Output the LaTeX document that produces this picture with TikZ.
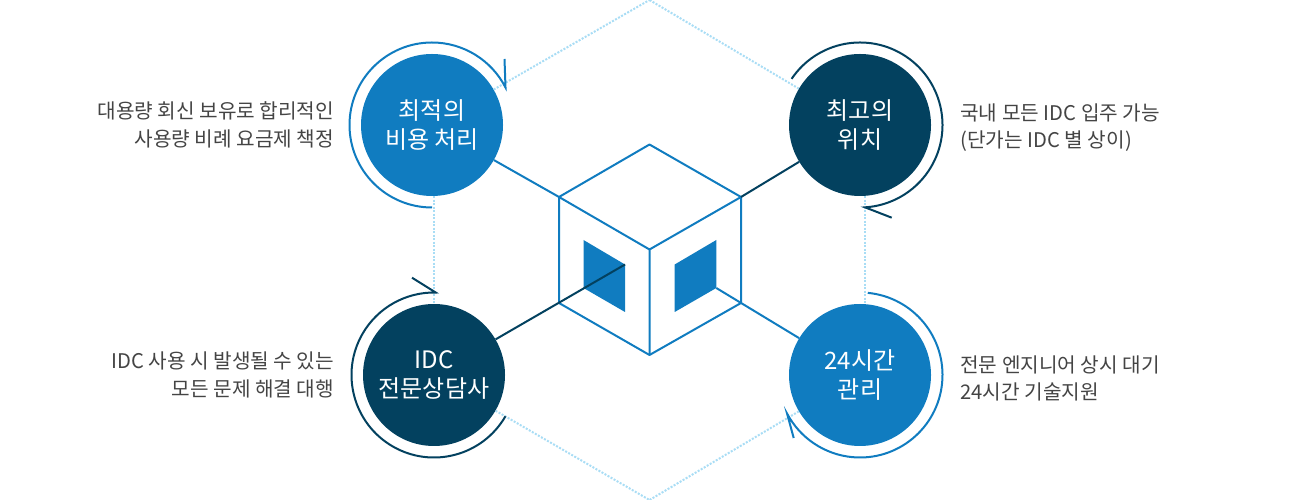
\documentclass[tikz,border=0pt]{standalone}
\usepackage{fontspec}
\setmainfont{Noto Sans CJK KR}
\usetikzlibrary{positioning}

\definecolor{idcblue}{HTML}{107CC0}
\definecolor{idcdark}{HTML}{03415F}
\definecolor{idcdots}{HTML}{A9DDF5}
\definecolor{idctext}{HTML}{444444}

\tikzset{
	bubble/.style = {circle, minimum size = 142pt, inner sep = 0pt, text = white, align = center,
		font = \fontsize{24}{29.5}\selectfont},
	bluebubble/.style = {bubble, fill = idcblue},
	darkbubble/.style = {bubble, fill = idcdark},
	note/.style = {inner sep = 0pt, text = idctext, font = \fontsize{20.2}{27.5}\selectfont},
	hexline/.style = {idcdots, line width = 2pt, dash pattern = on 2pt off 1.5pt},
	blueline/.style = {idcblue, line width = 2pt, line join = round},
	darkline/.style = {idcdark, line width = 2pt, miter limit = 20},
	bluering/.style = {idcblue, line width = 2pt, miter limit = 20}
}

\begin{document}
\begin{tikzpicture}[x = 1pt, y = 1pt]
		\useasboundingbox (0, 0) rectangle (1300, 500);

		\node [bluebubble] (cost) at (432, 375) {최적의\\비용 처리};
		\node [darkbubble] (site) at (860, 375) {최고의\\위치};
		\node [darkbubble] (staff) at (434, 125) {IDC\\전문상담사};
		\node [bluebubble] (care) at (860, 125) {24시간\\관리};

		\node [note, align = right, left = 26.5pt of cost] (costnote) {대용량 회신 보유로 합리적인\\사용량 비례 요금제 책정};
		\node [note, align = left, right = 29pt of site, yshift = -2.5pt] (sitenote) {국내 모든 IDC 입주 가능\\(단가는 IDC 별 상이)};
		\node [note, align = right, left = 28.5pt of staff] (staffnote) {IDC 사용 시 발생될 수 있는\\모든 문제 해결 대행};
		\node [note, align = left, right = 29pt of care, yshift = -3.5pt] (carenote) {전문 엔지니어 상시 대기\\24시간 기술지원};

		% cube corners
		\coordinate (top) at (649.5, 355.5);
		\coordinate (upleft) at (559, 303);
		\coordinate (upright) at (741, 303);
		\coordinate (mid) at (649.5, 250.5);
		\coordinate (lowleft) at (559, 197);
		\coordinate (lowright) at (741, 197);
		\coordinate (bottom) at (649.5, 145);

		% outer hexagon
		\coordinate (hextop) at (649.5, 500);
		\coordinate (hexbottom) at (649.5, 0);
		\path [hexline]
		(cost) edge (hextop)
		(site) edge (hextop)
		(staff) edge (hexbottom)
		(care) edge (hexbottom)
		([xshift = 2pt]cost.south) edge (staff.north)
		([xshift = 5pt]site.south) edge ([xshift = 5pt]care.north);

		% windows
		\fill [idcblue] (583.5, 260) coordinate (wina) -- (625, 235.5) coordinate (winb) -- (625, 188) -- (583.5, 212) -- cycle;
		\fill [idcblue] (674.7, 235.5) -- (716.3, 260) coordinate (winc) -- (716.3, 212) coordinate (wind) -- (674.7, 188) -- cycle;

		\draw [blueline] (top) -- (upright) -- (lowright) -- (bottom) -- (lowleft) -- (upleft) -- cycle;
		\draw [blueline] (upleft) -- (mid) -- (upright) (mid) -- (bottom);

		\path [blueline]
		(cost) edge (upleft)
		(care) edge (wind);
		\path [darkline]
		(site) edge (upright)
		(staff) edge (winb);

		% rings with one barb
		\coordinate (costbarb) at (504.5, 441);
		\coordinate (sitebarb) at (891.7, 282.3);
		\coordinate (staffbarb) at (412, 222.3);
		\coordinate (carebarb) at (793.7, 62);
		\draw [bluering] (cost.center) ++(270:82.5) arc [start angle = 270, end angle = 27, radius = 82.5] -- (costbarb);
		\draw [darkline] (site.center) ++(146:82.5) arc [start angle = 146, end angle = -86.5, radius = 82.5] -- (sitebarb);
		\draw [darkline] (staff.center) ++(-30:82.5) arc [start angle = -30, end angle = -271.2, radius = 82.5] -- (staffbarb);
		\draw [bluering] (care.center) ++(84.6:82.5) arc [start angle = 84.6, end angle = -152.2, radius = 82.5] -- (carebarb);

	\end{tikzpicture}
\end{document}
